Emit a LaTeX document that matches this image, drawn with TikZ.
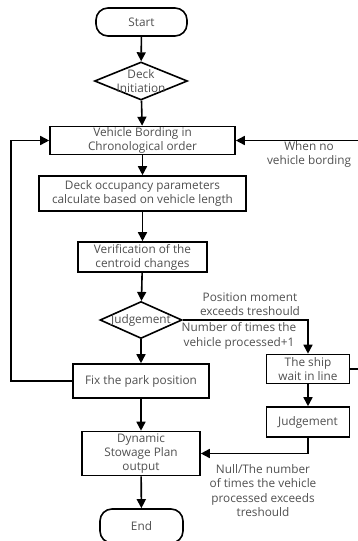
\documentclass[tikz,border=0pt]{standalone}
\usepackage{fontspec}
\setmainfont{Open Sans}
\usetikzlibrary{shapes.geometric,arrows.meta}
\definecolor{txtc}{RGB}{80,80,80}
\begin{document}
\begin{tikzpicture}[x=1pt,y=-1pt,
  every node/.style={font=\fontsize{11.8}{14.2}\selectfont, text=txtc, align=center, inner sep=0pt},
  box/.style={draw=black, line width=1.6pt, fill=white, rectangle},
  term/.style={draw=black, line width=1.6pt, fill=white, rectangle, rounded corners=12pt},
  dia/.style={draw=black, line width=1.6pt, fill=white, diamond},
  lbl/.style={font=\fontsize{11.8}{14.5}\selectfont},
  arr/.style={line width=1.6pt, -{Triangle[length=9pt,width=9pt]}},
  ln/.style={line width=1.6pt}]
\useasboundingbox (0,0) rectangle (358,541);
\node[term, minimum width=91pt, minimum height=28pt] (start) at (141.5,22) {Start};
\node[dia, minimum width=93pt, minimum height=38pt] (d1) at (141,81) {};
\node at (d1) {Deck\\Initiation};
\node[box, minimum width=185pt, minimum height=28pt] (veh) at (142.5,140.5) {Vehicle Bording in\\Chronological order};
\node[box, minimum width=207pt, minimum height=35pt] (occ) at (142.5,193.5) {Deck occupancy parameters\\calculate based on vehicle length};
\node[box, minimum width=129pt, minimum height=30pt] (ver) at (142.5,257) {Verification of the\\centroid changes};
\node[dia, minimum width=82pt, minimum height=37pt] (d2) at (141,320) {};
\node at (d2) {Judgement};
\node[box, minimum width=136pt, minimum height=34pt] (fix) at (141,381) {Fix the park position};
\node[box, minimum width=83pt, minimum height=29pt] (ship) at (308,369) {The ship\\wait in line};
\node[box, minimum width=83pt, minimum height=30pt] (jud) at (308,422) {Judgement};
\node[box, minimum width=118pt, minimum height=44pt] (dyn) at (141,453.5) {Dynamic\\Stowage Plan\\output};
\node[term, minimum width=83pt, minimum height=34pt] (end) at (141.5,526) {End};

\coordinate (lft) at (11,381);
\coordinate (lftt) at (11,140.5);
\coordinate (rgt) at (362,369);
\coordinate (rgtt) at (362,140.5);
\coordinate (jr) at (308,320);
\coordinate (jb) at (308,453.5);

\draw[arr] (start) -- (d1);
\draw[arr] (d1) -- (veh);
\draw[arr] (veh) -- (occ);
\draw[arr] (occ) -- (ver);
\draw[arr] (ver) -- (d2);
\draw[arr] (d2) -- (fix);
\draw[arr] (fix) -- (dyn);
\draw[arr] (dyn) -- (end);
\draw[arr] (fix.west) -- (lft) -- (lftt) -- (veh.west);
\draw[arr] (ship.east) -- (rgt) -- (rgtt) -- (veh.east);
\draw[arr] (d2.east) -- (jr) -- (ship.north);
\draw[arr] (ship) -- (jud);
\draw[arr] (jud.south) -- (jb) -- (dyn.east);

\node[lbl] at (309,154.5) {When no\\vehicle bording};
\node[lbl] at (250,304) {Position moment\\exceeds treshould};
\node[lbl] at (239,336) {Number of times the\\vehicle processed+1};
\node[lbl] at (263,490.5) {Null/The number\\of times the vehicle\\processed exceeds\\treshould};
\end{tikzpicture}
\end{document}
